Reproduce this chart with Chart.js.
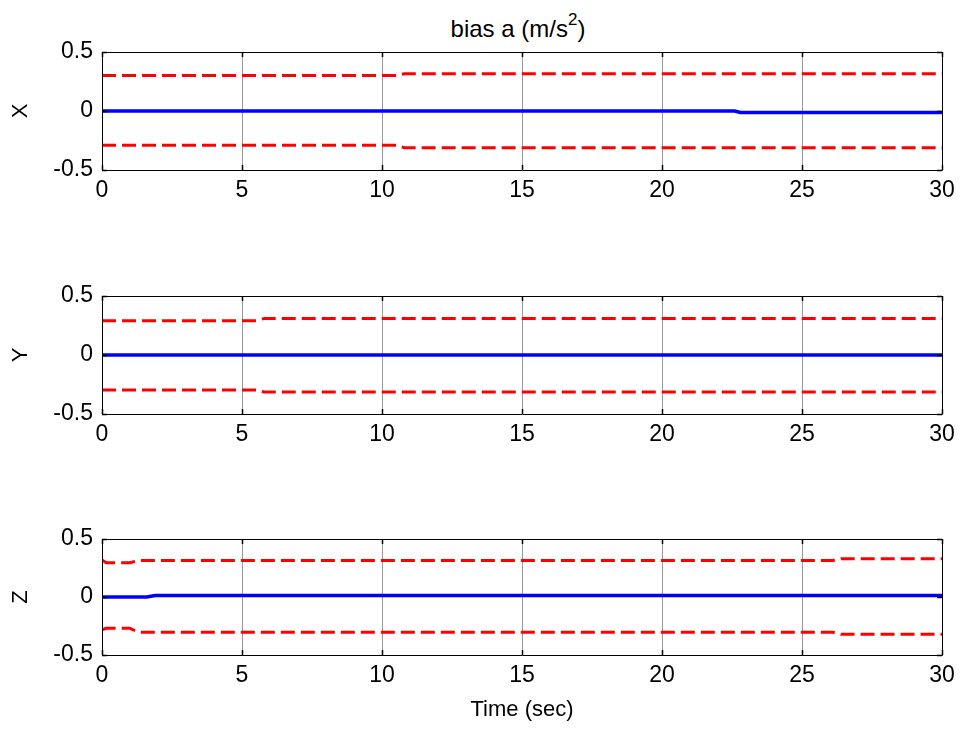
<!DOCTYPE html>
<html>
<head>
<meta charset="utf-8">
<script src="https://cdn.jsdelivr.net/npm/chart.js@4"></script>
<style>
  body { margin: 0; background: #fff; }
  #wrap { position: relative; width: 962px; height: 731px; overflow: hidden; }
  canvas { position: absolute; left: 0; }
  #title {
    position: absolute; left: 368px; top: 9px; width: 300px;
    text-align: center; font: 24px Arial, "Liberation Sans", sans-serif; color: #000;
    line-height: 28px; white-space: nowrap;
  }
  #title sup { font-size: 17px; position: relative; top: -3px; }
</style>
</head>
<body>
<div id="wrap">
  <div id="title">bias a (m/s<sup>2</sup>)</div>
  <canvas id="cX" width="962" height="210" style="top:0px"></canvas>
  <canvas id="cY" width="962" height="210" style="top:245px"></canvas>
  <canvas id="cZ" width="962" height="243" style="top:488px"></canvas>
</div>
<script>
// time breakpoints (sec) and values per axis
const timeX = [0, 10.5, 10.8, 22.6, 22.8, 30];
const estX  = [0, 0, 0, 0, -0.012, -0.012];
const upX   = [0.30, 0.30, 0.316, 0.316, 0.316, 0.316];
const loX   = [-0.29, -0.29, -0.311, -0.311, -0.311, -0.311];

const timeY = [0, 5.5, 5.8, 30];
const estY  = [0, 0, 0, 0];
const upY   = [0.291, 0.291, 0.31, 0.31];
const loY   = [-0.297, -0.297, -0.314, -0.314];

const timeZ = [0, 0.15, 1.0, 1.3, 1.6, 1.9, 26.1, 26.4, 30];
const estZ  = [0, 0, 0, 0, 0, 0.013, 0.013, 0.013, 0.013];
const upZ   = [0.32, 0.296, 0.296, 0.315, 0.315, 0.315, 0.315, 0.33, 0.33];
const loZ   = [-0.284, -0.27, -0.27, -0.304, -0.304, -0.304, -0.304, -0.322, -0.322];

const xTicks = [0, 5, 10, 15, 20, 25, 30];
const yTicks = [-0.5, 0, 0.5];

Chart.defaults.font.family = 'Arial, "Liberation Sans", sans-serif';
Chart.defaults.font.size = 23;
Chart.defaults.color = '#000';

function pts(t, v) {
  return t.map((x, i) => ({ x: x, y: v[i] }));
}

// axes box + inward tick marks like matlab
const boxPlugin = {
  id: 'box',
  afterDraw(chart) {
    const { ctx, chartArea: a, scales } = chart;
    ctx.save();
    ctx.lineWidth = 1;
    ctx.strokeStyle = '#000';
    ctx.beginPath();
    ctx.moveTo(a.left + 0.5, a.top + 0.5);
    ctx.lineTo(a.left + 0.5, a.bottom + 0.5);
    ctx.lineTo(a.right + 0.5, a.bottom + 0.5);
    ctx.lineTo(a.right + 0.5, a.top + 0.5);
    ctx.lineTo(a.left + 0.5, a.top + 0.5);
    ctx.stroke();
    ctx.lineWidth = 1.5;
    ctx.beginPath();
    xTicks.forEach(v => {
      const px = Math.round(scales.x.getPixelForValue(v)) + 0.5;
      ctx.moveTo(px, a.bottom); ctx.lineTo(px, a.bottom - 5);
      ctx.moveTo(px, a.top); ctx.lineTo(px, a.top + 5);
    });
    yTicks.forEach(v => {
      const py = Math.round(scales.y.getPixelForValue(v)) + 0.5;
      ctx.moveTo(a.left, py); ctx.lineTo(a.left + 5, py);
      ctx.moveTo(a.right, py); ctx.lineTo(a.right - 5, py);
    });
    ctx.stroke();
    ctx.restore();
  }
};

function makeChart(id, t, est, up, lo, name, padTop, xHeight, xTitle) {
  return new Chart(document.getElementById(id), {
    type: 'line',
    data: {
      datasets: [
        { data: pts(t, up), borderColor: '#ff0000', borderWidth: 3, borderDash: [14, 6] },
        { data: pts(t, lo), borderColor: '#ff0000', borderWidth: 3, borderDash: [14, 6] },
        { data: pts(t, est), borderColor: '#0000ff', borderWidth: 3.5 }
      ]
    },
    options: {
      responsive: false,
      animation: false,
      events: [],
      elements: { point: { radius: 0 }, line: { tension: 0 } },
      layout: { padding: { top: padTop, right: 20, left: 0, bottom: 0 } },
      plugins: { legend: { display: false }, tooltip: { enabled: false } },
      scales: {
        x: {
          type: 'linear', min: 0, max: 30,
          border: { display: false },
          grid: { color: '#999999', lineWidth: 1, drawTicks: false },
          ticks: { stepSize: 5, padding: 7, maxRotation: 0, callback: v => String(v) },
          title: { display: !!xTitle, text: xTitle || '', font: { size: 22 }, padding: { top: 0, bottom: 8 } },
          afterFit: s => { s.height = xHeight; }
        },
        y: {
          min: -0.5, max: 0.5,
          border: { display: false },
          grid: { display: false, drawTicks: false },
          ticks: { stepSize: 0.5, padding: 9, callback: v => String(v) },
          title: { display: true, text: name, font: { size: 22 }, padding: { top: 8, bottom: 0 } },
          afterFit: s => { s.width = 102; }
        }
      }
    },
    plugins: [boxPlugin]
  });
}

makeChart('cX', timeX, estX, upX, loX, 'X', 52, 40);
makeChart('cY', timeY, estY, upY, loY, 'Y', 51, 41);
makeChart('cZ', timeZ, estZ, upZ, loZ, 'Z', 51, 76, 'Time (sec)');
</script>
</body>
</html>
